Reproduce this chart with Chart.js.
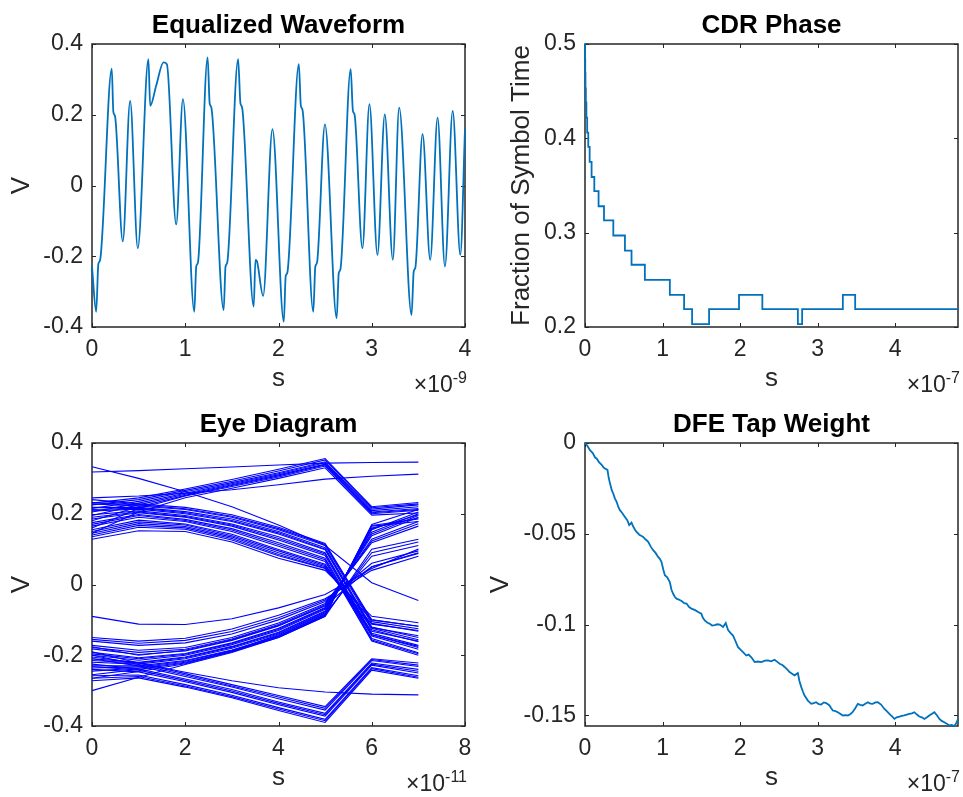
<!DOCTYPE html>
<html><head><meta charset="utf-8">
<script src="https://cdn.jsdelivr.net/npm/chart.js@4"></script>
<style>
html,body{margin:0;padding:0;background:#fff;}
#wrap{position:relative;width:963px;height:797px;overflow:hidden;background:#fff;}
#wrap canvas{position:absolute;left:0;top:0;}
</style></head><body>
<div id="wrap">
<canvas id="c1" width="963" height="797"></canvas>
<canvas id="c2" width="963" height="797"></canvas>
<canvas id="c3" width="963" height="797"></canvas>
<canvas id="c4" width="963" height="797"></canvas>
</div>
<script>
// ---------- Equalized Waveform (time in units of 1e-9 s, volts) ----------
const waveT = [0, 0.045, 0.068, 0.086, 0.212, 0.229, 0.247, 0.33, 0.409, 0.491, 0.605, 0.624, 0.688, 0.767, 0.803, 0.903, 0.975,
  1.097, 1.118, 1.136, 1.24, 1.262, 1.28, 1.412, 1.432, 1.45, 1.567, 1.592, 1.61, 1.734, 1.753, 1.77, 1.835, 1.935,
  2.057, 2.077, 2.095, 2.218, 2.24, 2.258, 2.373, 2.395, 2.413, 2.498, 2.624, 2.646, 2.664, 2.774, 2.798, 2.816, 2.9, 2.975,
  3.061, 3.14, 3.226, 3.294, 3.427, 3.45, 3.468, 3.545, 3.627, 3.706, 3.785, 3.868, 3.95, 4.0];
const waveV = [-0.23, -0.357, -0.222, -0.212, 0.33, 0.208, 0.196, -0.158, 0.239, -0.177, 0.357, 0.225, 0.282, 0.348, 0.343, -0.11, 0.244,
  -0.357, -0.229, -0.218, 0.362, 0.232, 0.22, -0.352, -0.229, -0.218, 0.357, 0.232, 0.22, -0.342, -0.21, -0.215, -0.312, 0.159,
  -0.385, -0.257, -0.246, 0.343, 0.225, 0.213, -0.357, -0.229, -0.218, 0.173, -0.375, -0.248, -0.237, 0.329, 0.211, 0.2, -0.177, 0.23,
  -0.196, 0.201, -0.21, 0.22, -0.366, -0.243, -0.232, 0.145, -0.21, 0.192, -0.229, 0.211, -0.196, 0.16];
const waveXTicks = [0, 1, 2, 3, 4];
const waveXTickLabels = ['0', '1', '2', '3', '4'];
const waveYTicks = [-0.4, -0.2, 0, 0.2, 0.4];
const waveYTickLabels = ['-0.4', '-0.2', '0', '0.2', '0.4'];

// ---------- CDR Phase (time in units of 1e-7 s, fraction of symbol time) ----------
const cdrT = [0, 0.001, 0.003, 0.006, 0.011, 0.018, 0.028, 0.042, 0.06, 0.085, 0.12, 0.175, 0.245, 0.365, 0.515, 0.6, 0.772,
  1.094, 1.278, 1.381, 1.6, 1.986, 2.287, 2.745, 2.8, 3.325, 3.484, 4.81];
const cdrV = [0.5, 0.484, 0.469, 0.453, 0.438, 0.422, 0.406, 0.391, 0.375, 0.359, 0.344, 0.328, 0.313, 0.297, 0.281, 0.266, 0.25,
  0.234, 0.219, 0.203, 0.219, 0.234, 0.219, 0.203, 0.219, 0.234, 0.219, 0.219];
const cdrXTicks = [0, 1, 2, 3, 4];
const cdrXTickLabels = ['0', '1', '2', '3', '4'];
const cdrYTicks = [0.2, 0.3, 0.4, 0.5];
const cdrYTickLabels = ['0.2', '0.3', '0.4', '0.5'];

// ---------- Eye Diagram (sample times in units of 1e-11 s, volts) ----------
const eyeT = [0, 1, 2, 3, 4, 5, 6, 7];
const eyeUpperHold = [
  [0.23, 0.245, 0.27, 0.297, 0.326, 0.356, 0.22, 0.232],
  [0.225, 0.24, 0.266, 0.292, 0.321, 0.352, 0.217, 0.228],
  [0.215, 0.235, 0.262, 0.288, 0.316, 0.347, 0.213, 0.225],
  [0.205, 0.23, 0.258, 0.285, 0.313, 0.344, 0.209, 0.22],
  [0.195, 0.225, 0.255, 0.282, 0.31, 0.34, 0.205, 0.215],
  [0.18, 0.22, 0.252, 0.28, 0.307, 0.338, 0.203, 0.212],
  [0.16, 0.215, 0.25, 0.277, 0.304, 0.335, 0.2, 0.21],
  [0.145, 0.205, 0.245, 0.272, 0.3, 0.33, 0.196, 0.202]
];
const eyeUpperFall = [
  [0.24, 0.228, 0.218, 0.197, 0.162, 0.116, -0.1, -0.118],
  [0.232, 0.225, 0.214, 0.193, 0.158, 0.113, -0.105, -0.125],
  [0.228, 0.222, 0.212, 0.19, 0.155, 0.11, -0.11, -0.132],
  [0.218, 0.218, 0.206, 0.185, 0.15, 0.104, -0.12, -0.15],
  [0.212, 0.216, 0.203, 0.181, 0.146, 0.1, -0.124, -0.156],
  [0.208, 0.213, 0.2, 0.178, 0.143, 0.098, -0.128, -0.162],
  [0.197, 0.208, 0.195, 0.171, 0.135, 0.09, -0.138, -0.172],
  [0.19, 0.205, 0.192, 0.168, 0.13, 0.086, -0.142, -0.178],
  [0.185, 0.203, 0.19, 0.165, 0.126, 0.082, -0.146, -0.183],
  [0.175, 0.198, 0.184, 0.158, 0.118, 0.074, -0.153, -0.193],
  [0.17, 0.195, 0.181, 0.154, 0.113, 0.07, -0.157, -0.196],
  [0.165, 0.19, 0.178, 0.15, 0.108, 0.065, -0.16, -0.2],
  [0.155, 0.182, 0.171, 0.142, 0.099, 0.057, -0.142, -0.175],
  [0.15, 0.177, 0.168, 0.138, 0.095, 0.054, -0.132, -0.16],
  [0.145, 0.172, 0.164, 0.134, 0.09, 0.05, -0.122, -0.145],
  [0.14, 0.167, 0.16, 0.13, 0.085, 0.047, -0.112, -0.13],
  [0.135, 0.162, 0.156, 0.126, 0.081, 0.045, -0.1, -0.118],
  [0.128, 0.152, 0.15, 0.12, 0.074, 0.04, -0.09, -0.108]
];
const eyeLowerHold = [
  [-0.19, -0.222, -0.252, -0.283, -0.314, -0.345, -0.21, -0.222],
  [-0.2, -0.226, -0.256, -0.287, -0.318, -0.35, -0.212, -0.228],
  [-0.21, -0.23, -0.26, -0.29, -0.323, -0.355, -0.215, -0.232],
  [-0.225, -0.238, -0.267, -0.297, -0.332, -0.364, -0.222, -0.24],
  [-0.232, -0.242, -0.271, -0.301, -0.336, -0.368, -0.225, -0.245],
  [-0.24, -0.247, -0.275, -0.305, -0.34, -0.372, -0.228, -0.25],
  [-0.258, -0.256, -0.283, -0.313, -0.348, -0.381, -0.235, -0.258],
  [-0.265, -0.26, -0.287, -0.317, -0.352, -0.385, -0.238, -0.262],
  [-0.272, -0.264, -0.29, -0.32, -0.356, -0.39, -0.242, -0.265]
];
const eyeLowerRise = [
  [-0.15, -0.16, -0.152, -0.126, -0.087, -0.04, 0.04, 0.08],
  [-0.155, -0.166, -0.158, -0.133, -0.094, -0.044, 0.05, 0.088],
  [-0.16, -0.172, -0.165, -0.14, -0.1, -0.048, 0.06, 0.095],
  [-0.172, -0.186, -0.178, -0.15, -0.109, -0.054, 0.118, 0.165],
  [-0.178, -0.192, -0.183, -0.154, -0.113, -0.057, 0.123, 0.172],
  [-0.182, -0.198, -0.188, -0.158, -0.117, -0.06, 0.128, 0.178],
  [-0.192, -0.207, -0.195, -0.165, -0.124, -0.065, 0.138, 0.19],
  [-0.196, -0.21, -0.197, -0.167, -0.127, -0.067, 0.143, 0.195],
  [-0.2, -0.214, -0.2, -0.17, -0.13, -0.07, 0.148, 0.2],
  [-0.21, -0.22, -0.205, -0.175, -0.135, -0.075, 0.155, 0.205],
  [-0.215, -0.222, -0.207, -0.177, -0.137, -0.077, 0.157, 0.197],
  [-0.22, -0.225, -0.21, -0.18, -0.14, -0.08, 0.16, 0.188],
  [-0.23, -0.23, -0.215, -0.185, -0.145, -0.085, 0.165, 0.178],
  [-0.236, -0.233, -0.217, -0.187, -0.147, -0.087, 0.167, 0.185],
  [-0.245, -0.236, -0.22, -0.19, -0.15, -0.09, 0.17, 0.212],
  [-0.255, -0.24, -0.222, -0.188, -0.142, -0.082, 0.08, 0.11],
  [-0.265, -0.246, -0.224, -0.19, -0.146, -0.086, 0.09, 0.12],
  [-0.3, -0.262, -0.226, -0.192, -0.15, -0.09, 0.1, 0.128],
  [-0.176, -0.2, -0.186, -0.156, -0.116, -0.06, 0.05, 0.09]
];
const eyeOther = [
  [0.333, 0.3, 0.262, 0.22, 0.168, 0.11, 0.005, -0.045],
  [0.318, 0.322, 0.327, 0.332, 0.338, 0.343, 0.345, 0.346],
  [0.245, 0.25, 0.258, 0.268, 0.282, 0.298, 0.306, 0.312],
  [-0.205, -0.222, -0.248, -0.272, -0.292, -0.304, -0.31, -0.312],
  [-0.09, -0.112, -0.113, -0.097, -0.066, -0.028, 0.045, 0.1]
];
const eyeXTicks = [0, 2, 4, 6, 8];
const eyeXTickLabels = ['0', '2', '4', '6', '8'];
const eyeYTicks = [-0.4, -0.2, 0, 0.2, 0.4];
const eyeYTickLabels = ['-0.4', '-0.2', '0', '0.2', '0.4'];

// ---------- DFE Tap Weight (time in units of 1e-7 s, volts) ----------
const dfeT = [0, 0.03, 0.064, 0.1, 0.13, 0.15, 0.18, 0.215, 0.24, 0.257, 0.29, 0.305, 0.322, 0.345, 0.364, 0.385, 0.408, 0.43, 0.45, 0.48,
  0.515, 0.545, 0.57, 0.6, 0.622, 0.645, 0.665, 0.7, 0.73, 0.75, 0.78, 0.815, 0.85, 0.879, 0.91, 0.943, 0.965, 0.987,
  1.01, 1.03, 1.06, 1.094, 1.115, 1.137, 1.16, 1.18, 1.21, 1.245, 1.28, 1.309, 1.34, 1.373, 1.42, 1.459, 1.5, 1.52, 1.544,
  1.575, 1.609, 1.64, 1.673, 1.705, 1.738, 1.78, 1.815, 1.845, 1.875, 1.909, 1.94, 1.973, 2.005, 2.037, 2.08, 2.11, 2.145,
  2.188, 2.23, 2.274, 2.32, 2.36, 2.4, 2.445, 2.48, 2.51, 2.545, 2.574, 2.61, 2.638, 2.67, 2.703, 2.745, 2.765, 2.789, 2.81,
  2.831, 2.874, 2.917, 2.95, 2.981, 3.015, 3.046, 3.08, 3.11, 3.153, 3.175, 3.196, 3.23, 3.26, 3.29, 3.325, 3.36, 3.39, 3.42,
  3.45, 3.485, 3.518, 3.55, 3.58, 3.615, 3.646, 3.68, 3.71, 3.745, 3.775, 3.818, 3.861, 3.895, 3.925, 3.96, 3.99, 4.02, 4.054,
  4.085, 4.118, 4.15, 4.183, 4.215, 4.247, 4.28, 4.311, 4.345, 4.376, 4.41, 4.44, 4.475, 4.505, 4.54, 4.57, 4.6, 4.633, 4.665,
  4.698, 4.73, 4.76, 4.785, 4.81];
const dfeV = [0, -0.0015, -0.004, -0.0055, -0.008, -0.0085, -0.0105, -0.012, -0.0135, -0.014, -0.0148, -0.019, -0.0222, -0.026, -0.0278,
  -0.0305, -0.0324, -0.0352, -0.037, -0.0385, -0.0407, -0.0425, -0.0452, -0.0438, -0.046, -0.0478, -0.049, -0.0505, -0.0512, -0.0517,
  -0.053, -0.0544, -0.0572, -0.059, -0.0605, -0.0627, -0.0638, -0.0655, -0.0698, -0.0728, -0.074, -0.0766, -0.0808, -0.083, -0.0848,
  -0.0857, -0.0862, -0.087, -0.0882, -0.0884, -0.0902, -0.0912, -0.092, -0.093, -0.094, -0.0962, -0.0977, -0.0988, -0.0995, -0.1005,
  -0.1003, -0.0998, -0.1, -0.1013, -0.0991, -0.103, -0.1045, -0.106, -0.109, -0.1124, -0.1138, -0.1151, -0.117, -0.1165, -0.118,
  -0.1206, -0.1203, -0.1206, -0.1198, -0.1197, -0.1202, -0.1193, -0.1205, -0.1215, -0.1222, -0.1233, -0.1248, -0.1261, -0.127, -0.1279,
  -0.1266, -0.131, -0.1344, -0.1368, -0.139, -0.1418, -0.1436, -0.1432, -0.1427, -0.1438, -0.144, -0.1428, -0.1432, -0.1445, -0.146,
  -0.1473, -0.1476, -0.1482, -0.149, -0.15, -0.1498, -0.15, -0.1493, -0.1482, -0.146, -0.1436, -0.1442, -0.1445, -0.1435, -0.1427,
  -0.1435, -0.1436, -0.1428, -0.1427, -0.144, -0.1464, -0.1478, -0.1491, -0.1505, -0.1519, -0.151, -0.1506, -0.1502, -0.15, -0.1495,
  -0.1491, -0.1488, -0.1482, -0.1495, -0.1506, -0.151, -0.1519, -0.151, -0.15, -0.149, -0.1482, -0.15, -0.1519, -0.153, -0.1537,
  -0.1545, -0.1555, -0.1552, -0.1558, -0.1545, -0.152];
const dfeXTicks = [0, 1, 2, 3, 4];
const dfeXTickLabels = ['0', '1', '2', '3', '4'];
const dfeYTicks = [-0.15, -0.1, -0.05, 0];
const dfeYTickLabels = ['-0.15', '-0.1', '-0.05', '0'];

// ---------- styling / layout ----------
const W = 963, H = 797;
const FONT = "'Liberation Sans', Arial, Helvetica, sans-serif";
const TICK_PX = 23, LABEL_PX = 26, TITLE_PX = 26, SUP_PX = 16;
const AX = '#262626';
const MBLUE = '#0072BD';
const EYEBLUE = '#0000FF';

const matlabAxes = {
  id: 'matlabAxes',
  beforeDatasetsDraw(chart, args, opts) {
    const {ctx, chartArea: a, scales} = chart;
    const x = scales.x, y = scales.y, TL = 4;
    ctx.save();
    ctx.strokeStyle = AX;
    ctx.lineWidth = 1;
    ctx.beginPath();
    x.ticks.forEach(t => {
      const px = Math.round(x.getPixelForValue(t.value)) + 0.5;
      ctx.moveTo(px, a.bottom); ctx.lineTo(px, a.bottom - TL);
      ctx.moveTo(px, a.top); ctx.lineTo(px, a.top + TL);
    });
    y.ticks.forEach(t => {
      const py = Math.round(y.getPixelForValue(t.value)) + 0.5;
      ctx.moveTo(a.left, py); ctx.lineTo(a.left + TL, py);
      ctx.moveTo(a.right, py); ctx.lineTo(a.right - TL, py);
    });
    ctx.stroke();
    ctx.lineWidth = 1.5;
    ctx.strokeRect(a.left, a.top, a.right - a.left, a.bottom - a.top);
    ctx.restore();
  },
  afterDraw(chart, args, opts) {
    const {ctx, chartArea: a} = chart;
    ctx.save();
    ctx.fillStyle = '#000';
    ctx.font = 'bold ' + TITLE_PX + 'px ' + FONT;
    ctx.textAlign = 'center';
    ctx.textBaseline = 'alphabetic';
    ctx.fillText(opts.title, (a.left + a.right) / 2, a.top - 11);
    if (opts.exponent) {
      ctx.fillStyle = AX;
      ctx.textAlign = 'right';
      ctx.font = SUP_PX + 'px ' + FONT;
      const supW = ctx.measureText(opts.exponent).width;
      ctx.fillText(opts.exponent, a.right + 2, a.bottom + 56);
      ctx.font = TICK_PX + 'px ' + FONT;
      ctx.fillText('\u00d710', a.right + 2 - supW, a.bottom + 65);
    }
    ctx.restore();
  }
};

function xy(xs, ys) { return xs.map((v, i) => ({x: v, y: ys[i]})); }

function makeChart(id, p) {
  const yW = p.area.l - (p.yLabelX - LABEL_PX * 0.6);
  const xH = 61 - 0.3465 * LABEL_PX + LABEL_PX * 0.6;
  const tickFont = {family: FONT, size: TICK_PX};
  const labelFont = {family: FONT, size: LABEL_PX};
  return new Chart(document.getElementById(id), {
    type: 'line',
    data: {datasets: p.datasets},
    options: {
      responsive: false, animation: false, events: [], devicePixelRatio: 1,
      layout: {padding: {left: p.area.l - yW, top: p.area.t, right: W - p.area.r, bottom: H - p.area.b - xH}},
      plugins: {
        legend: {display: false}, tooltip: {enabled: false}, title: {display: false},
        matlabAxes: {title: p.title, exponent: p.exponent}
      },
      scales: {
        x: {
          type: 'linear', min: p.xMin, max: p.xMax,
          grid: {display: false, drawTicks: false}, border: {display: false},
          afterFit: s => { s.height = xH; s.paddingLeft = 0; s.paddingRight = 0; },
          afterBuildTicks: s => { s.ticks = p.xTicks.map(v => ({value: v})); },
          ticks: {autoSkip: false, maxRotation: 0, padding: 9.2, color: AX, font: tickFont,
                  callback: (v, i) => p.xTickLabels[i]},
          title: {display: true, text: p.xLabel, color: AX, font: labelFont, padding: 0}
        },
        y: {
          type: 'linear', min: p.yMin, max: p.yMax,
          grid: {display: false, drawTicks: false}, border: {display: false},
          afterFit: s => { s.width = yW; s.paddingTop = 0; s.paddingBottom = 0; },
          afterBuildTicks: s => { s.ticks = p.yTicks.map(v => ({value: v})); },
          ticks: {autoSkip: false, padding: 9, color: AX, font: tickFont,
                  callback: (v, i) => p.yTickLabels[i]},
          title: {display: true, text: p.yLabel, color: AX, font: labelFont, padding: 0}
        }
      }
    },
    plugins: [matlabAxes]
  });
}

const lineBase = {pointRadius: 0, fill: false, clip: 4};

makeChart('c1', {
  area: {l: 92, t: 44, r: 465, b: 327}, yLabelX: 22,
  title: 'Equalized Waveform', exponent: '-9', xLabel: 's', yLabel: 'V',
  xMin: 0, xMax: 4, yMin: -0.4, yMax: 0.4,
  xTicks: waveXTicks, xTickLabels: waveXTickLabels, yTicks: waveYTicks, yTickLabels: waveYTickLabels,
  datasets: [Object.assign({data: xy(waveT, waveV), borderColor: MBLUE, borderWidth: 1.8,
    cubicInterpolationMode: 'monotone'}, lineBase)]
});

makeChart('c2', {
  area: {l: 585, t: 44, r: 958, b: 327}, yLabelX: 522,
  title: 'CDR Phase', exponent: '-7', xLabel: 's', yLabel: 'Fraction of Symbol Time',
  xMin: 0, xMax: 4.81, yMin: 0.2, yMax: 0.5,
  xTicks: cdrXTicks, xTickLabels: cdrXTickLabels, yTicks: cdrYTicks, yTickLabels: cdrYTickLabels,
  datasets: [Object.assign({data: xy(cdrT, cdrV), borderColor: MBLUE, borderWidth: 1.8, stepped: 'before'}, lineBase)]
});

const eyeAll = [].concat(eyeUpperHold, eyeUpperFall, eyeLowerHold, eyeLowerRise, eyeOther);
makeChart('c3', {
  area: {l: 92, t: 443, r: 465, b: 726}, yLabelX: 22,
  title: 'Eye Diagram', exponent: '-11', xLabel: 's', yLabel: 'V',
  xMin: 0, xMax: 8, yMin: -0.4, yMax: 0.4,
  xTicks: eyeXTicks, xTickLabels: eyeXTickLabels, yTicks: eyeYTicks, yTickLabels: eyeYTickLabels,
  datasets: eyeAll.map(tr => Object.assign({data: xy(eyeT, tr), borderColor: EYEBLUE, borderWidth: 1.1}, lineBase))
});

makeChart('c4', {
  area: {l: 585, t: 443, r: 958, b: 726}, yLabelX: 501,
  title: 'DFE Tap Weight', exponent: '-7', xLabel: 's', yLabel: 'V',
  xMin: 0, xMax: 4.81, yMin: -0.1558, yMax: 0,
  xTicks: dfeXTicks, xTickLabels: dfeXTickLabels, yTicks: dfeYTicks, yTickLabels: dfeYTickLabels,
  datasets: [Object.assign({data: xy(dfeT, dfeV), borderColor: MBLUE, borderWidth: 1.8}, lineBase)]
});
</script>
</body></html>
